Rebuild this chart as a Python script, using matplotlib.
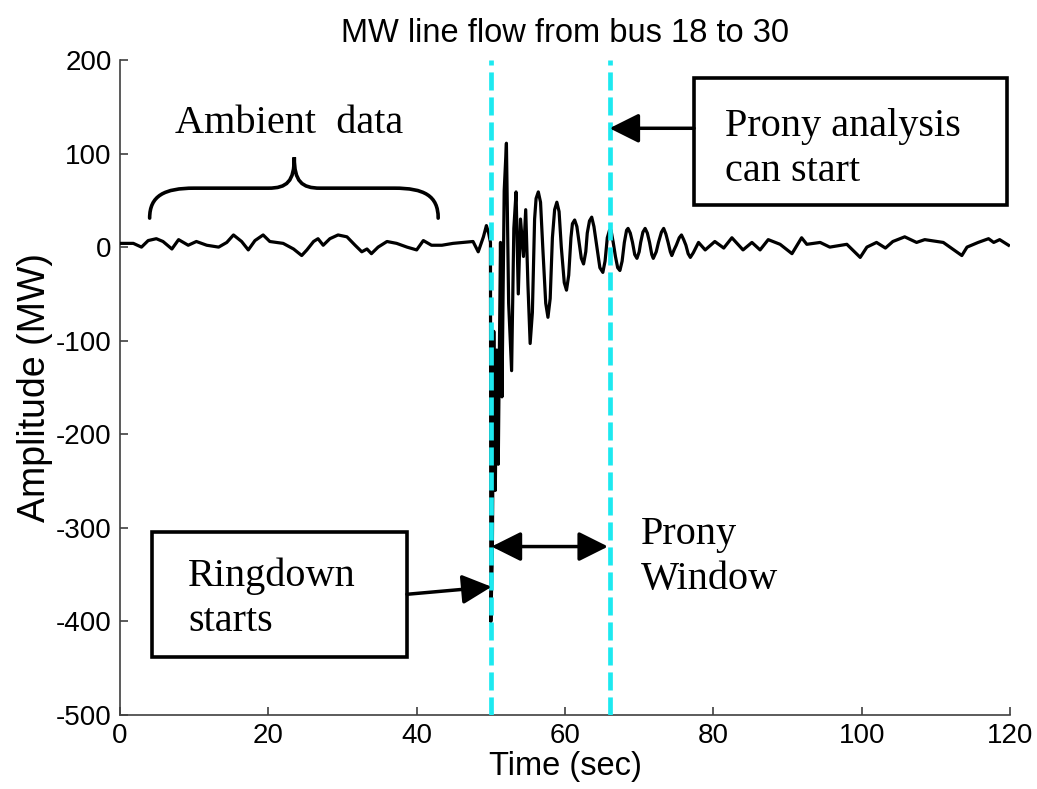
import numpy as np
import matplotlib
matplotlib.use('Agg')
import matplotlib.pyplot as plt
from matplotlib.path import Path
from matplotlib.patches import PathPatch, Rectangle

plt.rcParams['lines.scale_dashes'] = False
plt.rcParams['axes.unicode_minus'] = False

# MW flow on line 18-30 (time in sec, amplitude in MW)
t_ambient = [0.0, 1.8, 2.9, 3.8, 4.9, 5.8, 7.0, 7.9, 9.2, 10.3, 11.7, 13.3, 14.4,
             15.3, 16.4, 17.3, 18.2, 19.3, 20.2, 22.0, 23.4, 24.5, 25.2, 26.1,
             26.7, 27.4, 28.3, 29.4, 30.6, 31.7, 32.6, 33.3, 33.9, 34.8, 36.0,
             37.3, 38.7, 40.0, 40.9, 42.0, 43.4, 44.9, 46.3, 47.6, 48.3, 49.0,
             49.4, 49.7, 49.95]
p_ambient = [4, 4, 0, 7, 9, 6, -2, 8, 2, 6, 2, 0, 5,
             13, 6, -3, 7, 13, 6, 4, -2, -9, -3, 6,
             9, 2, 9, 13, 11, 2, -5, -2, -7, 0, 6,
             4, 0, -3, 7, 2, 2, 4, 5, 6, -5, 11,
             23, 15, 5]

t_ring = [50.0, 50.2, 50.4, 50.6, 50.8, 51.0, 51.3, 51.5, 51.8, 52.1, 52.4,
          52.8, 53.1, 53.4, 53.7, 54.0, 54.4, 54.7, 55.0, 55.3, 55.6, 55.9,
          56.1, 56.4, 56.7, 57.0, 57.4, 57.7, 58.0, 58.3, 58.6, 58.9, 59.2,
          59.5, 59.9, 60.2, 60.5, 60.8, 61.0, 61.3, 61.6, 61.9, 62.2, 62.5,
          62.8, 63.0, 63.3, 63.6, 63.9, 64.3, 64.7, 65.1, 65.4, 65.7, 66.0,
          66.2, 66.5, 66.8, 67.1, 67.4, 67.7, 68.0, 68.3, 68.5, 68.8, 69.1,
          69.4, 69.7, 70.0, 70.2, 70.5, 70.8, 71.1, 71.4, 71.7, 71.9, 72.3,
          72.6, 73.0, 73.3, 73.6, 73.9, 74.2, 74.4, 74.7, 75.0, 75.4, 75.7,
          76.0, 76.3, 76.6, 76.9, 77.3]
p_ring = [-400, -330, -90, -260, -110, -232, 5, -160, 60, 111, -60,
          -132, 20, 59, -50, 30, -10, 40, -40, -103, -70, 30,
          52, 59, 48, 0, -60, -75, -55, 10, 40, 48, 38,
          0, -38, -46, -30, 10, 25, 29, 22, 5, -12, -18,
          -5, 15, 28, 32, 22, 0, -22, -27, -15, 10, 18,
          18, 5, -10, -22, -25, -15, 5, 18, 20, 15, 5,
          -8, -12, -5, 5, 16, 20, 15, 5, -8, -12, -5,
          5, 16, 20, 14, 5, -5, -9, -3, 2, 10, 13,
          8, 2, -7, -11, -6]

t_after = [78.0, 78.9, 80.2, 81.4, 82.5, 84.0, 85.2, 86.3, 87.4, 89.0, 90.6,
           91.9, 92.6, 94.4, 95.7, 98.0, 99.8, 100.7, 102.0, 103.2, 104.2,
           105.8, 107.4, 108.5, 111.0, 113.5, 114.2, 115.7, 117.1, 117.8,
           118.6, 119.8]
p_after = [5, -3, 6, -1, 10, -3, 5, -3, 8, 3, -7,
           10, 3, 5, 0, 3, -11, 0, 5, -1, 6,
           11, 5, 8, 5, -9, 0, 5, 9, 5,
           8, 2]

ringdown_start = 50
prony_start = 66

time = np.array(t_ambient + t_ring + t_after)
flow = np.array(p_ambient + p_ring + p_after)

fig = plt.figure(figsize=(10.37, 7.89), dpi=100)
ax = fig.add_axes([0.1157, 0.0938, 0.8583, 0.8302])

ax.plot(time, flow, color='black', lw=2.3, zorder=3)

cyan = '#1de9f0'
for xv in (ringdown_start, prony_start):
    ax.axvline(xv, color=cyan, lw=3.4, dashes=(13, 5), zorder=4)

ax.set_xlim(0, 120)
ax.set_ylim(-500, 200)
ax.set_xticks(np.arange(0, 121, 20))
ax.set_yticks(np.arange(-500, 201, 100))
for s in ('top', 'right'):
    ax.spines[s].set_visible(False)
for s in ('left', 'bottom'):
    ax.spines[s].set_color('#404040')
    ax.spines[s].set_linewidth(1.2)
ax.tick_params(direction='in', length=6, width=1.2, color='#404040',
               labelsize=20, pad=6)
for lab in ax.get_xticklabels() + ax.get_yticklabels():
    lab.set_family('Liberation Sans')

ax.set_xlabel('Time (sec)', fontsize=23.5, family='Liberation Sans', labelpad=1)
ax.set_ylabel('Amplitude (MW)', fontsize=27, family='Liberation Sans', labelpad=2)
ax.set_title('MW line flow from bus 18 to 30', fontsize=23.5,
             family='Liberation Sans', pad=13)

serif = dict(family='Liberation Serif', fontsize=29, color='black', zorder=7)

# brace over the ambient part
verts = [(4.0, 31), (4.0, 55), (6.0, 63), (10.0, 63),
         (20.0, 63),
         (22.5, 63), (23.5, 70), (23.5, 96),
         (23.5, 70), (24.5, 63), (27.0, 63),
         (37.0, 63),
         (41.0, 63), (42.9, 55), (42.9, 31)]
codes = [Path.MOVETO, Path.CURVE4, Path.CURVE4, Path.CURVE4,
         Path.LINETO,
         Path.CURVE4, Path.CURVE4, Path.CURVE4,
         Path.CURVE4, Path.CURVE4, Path.CURVE4,
         Path.LINETO,
         Path.CURVE4, Path.CURVE4, Path.CURVE4]
ax.add_patch(PathPatch(Path(verts, codes), fill=False, lw=2.6, color='black',
                       capstyle='round', zorder=5))
ax.text(22.8, 132, 'Ambient  data', ha='center', va='center', **serif)

head = '-|>,head_length=0.6,head_width=0.3'
# Prony analysis box
ax.add_patch(Rectangle((77.4, 45), 42.2, 135.5, facecolor='white', lw=2.6,
                       edgecolor='black', zorder=5, clip_on=False))
ax.text(81.6, 105, 'Prony analysis\ncan start', ha='left', va='center',
        linespacing=1.3, **serif)
ax.annotate('', xy=(prony_start, 127), xytext=(77.4, 127),
            arrowprops=dict(arrowstyle=head, mutation_scale=30, lw=2.5,
                            color='black', shrinkA=0, shrinkB=0), zorder=6)

# Ringdown box
ax.add_patch(Rectangle((4.3, -438), 34.4, 133.5, facecolor='white', lw=2.6,
                       edgecolor='black', zorder=5))
ax.text(9.2, -376, 'Ringdown\nstarts', ha='left', va='center',
        linespacing=1.3, **serif)
ax.annotate('', xy=(ringdown_start + 0.1, -363), xytext=(38.7, -371),
            arrowprops=dict(arrowstyle=head, mutation_scale=30, lw=2.5,
                            color='black', shrinkA=0, shrinkB=0), zorder=6)

# Prony window
ax.annotate('', xy=(65.8, -320), xytext=(ringdown_start + 0.1, -320),
            arrowprops=dict(arrowstyle='<|-|>,head_length=0.6,head_width=0.3',
                            mutation_scale=30, lw=2.5, color='black',
                            shrinkA=0, shrinkB=0), zorder=6)
ax.text(70.2, -331, 'Prony\nWindow', ha='left', va='center',
        linespacing=1.3, **serif)

fig.savefig('out.png', dpi=100)
